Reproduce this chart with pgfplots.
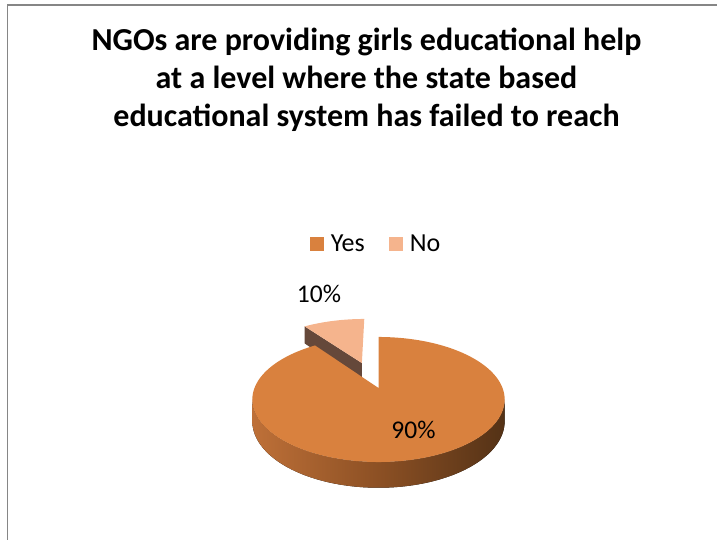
\documentclass[border=0pt]{standalone}
\usepackage{pgfplots}
\pgfplotsset{compat=1.18}
\usepackage{pgfplotstable}
\usepgfplotslibrary{fillbetween}
\usepackage{fontspec}
\setmainfont{Carlito}

\definecolor{cYes}{RGB}{217,129,62}
\definecolor{cNo}{RGB}{245,180,141}
\definecolor{cNoSide}{RGB}{101,72,58}
\definecolor{sideL}{RGB}{190,112,56}
\definecolor{sideM}{RGB}{140,80,36}
\definecolor{sideR}{RGB}{84,50,22}
\definecolor{frameC}{RGB}{134,134,134}

\pgfplotstableread{
label value
Yes 90
No 10
}\piedata
\pgfplotstablegetelem{0}{value}\of\piedata \edef\vYes{\pgfplotsretval}
\pgfplotstablegetelem{1}{value}\of\piedata \edef\vNo{\pgfplotsretval}
\pgfmathsetmacro\fYes{\vYes/(\vYes+\vNo)}
\pgfmathsetmacro\fNo{\vNo/(\vYes+\vNo)}
\pgfmathsetmacro\aA{90}
\pgfmathsetmacro\aB{round(90-360*\fYes)}
\pgfmathsetmacro\aC{round(\aB-360*\fNo)}
\pgfmathsetmacro\aM{(\aB+\aC)/2}
\pgfmathsetmacro\ex{0.47*cos(\aM)}
\pgfmathsetmacro\ey{0.47*sin(\aM)}
\pgfmathsetmacro\aBn{\aB+1}
\pgfmathsetmacro\aCn{\aC+1}

\begin{document}%
\begin{tikzpicture}
\begin{axis}[
  width=726pt, height=540pt, scale only axis,
  xmin=0, xmax=726, ymin=0, ymax=540, y dir=reverse,
  hide axis, ticks=none, clip=false,
  at={(0,0)}, anchor=south west,
  declare function={
    px(\X,\Y)=378.5+124*\X/(1+0.184*\Y);
    py(\X,\Y,\Z)=388+(-60.4*\Y+21*\Z)/(1+0.184*\Y);
  },
  legend style={at={(axis description cs:0.518,0.548)}, anchor=center, draw=none, fill=none,
    legend columns=2, font=\fontsize{26}{30}\selectfont,
    /tikz/every even column/.append style={column sep=22pt}},
  legend cell align=left,
]
\addlegendimage{legend image code/.code={\fill[cYes, draw=none] (0pt,-7pt) rectangle (14pt,7pt); \path[draw=none, fill=none] (19pt,0pt) rectangle (19pt,0pt);}}
\addlegendentry{Yes}
\addlegendimage{legend image code/.code={\fill[cNo, draw=none] (0pt,-7pt) rectangle (14pt,7pt); \path[draw=none, fill=none] (19pt,0pt) rectangle (19pt,0pt);}}
\addlegendentry{No}

% No slice (exploded): radial side face
\addplot[draw=none, name path=nTop, forget plot, domain=0:1, samples=2]
  ({px(\ex+x*cos(\aB),\ey+x*sin(\aB))},{py(\ex+x*cos(\aB),\ey+x*sin(\aB),0)});
\addplot[draw=none, name path=nBot, forget plot, domain=0:1, samples=2]
  ({px(\ex+x*cos(\aB),\ey+x*sin(\aB))},{py(\ex+x*cos(\aB),\ey+x*sin(\aB),1)});
\addplot[fill=cNoSide, draw=none, forget plot] fill between[of=nTop and nBot];
% No slice top face
\addplot[fill=cNo, draw=none, forget plot, samples at={\aC,\aCn,...,\aB,1000}]
  ({ifthenelse(x>500, px(\ex,\ey), px(\ex+cos(x),\ey+sin(x)))},
   {ifthenelse(x>500, py(\ex,\ey,0), py(\ex+cos(x),\ey+sin(x),0))});

% Yes slice: front side
\addplot[draw=none, name path=ySTop, forget plot, domain=-169.4:-10.6, samples=120]
  ({px(cos(x),sin(x))},{py(cos(x),sin(x),0)});
\addplot[draw=none, name path=ySBot, forget plot, domain=-169.4:-10.6, samples=120]
  ({px(cos(x),sin(x))},{py(cos(x),sin(x),1)});
\addplot[left color=sideL, right color=sideR, middle color=sideM, draw=none, forget plot]
  fill between[of=ySTop and ySBot];
% Yes slice top face
\addplot[fill=cYes, draw=none, forget plot, samples at={\aB,\aBn,...,\aA,1000}]
  ({ifthenelse(x>500, px(0,0), px(cos(x),sin(x)))},
   {ifthenelse(x>500, py(0,0,0), py(cos(x),sin(x),0))});

% labels
\node[font=\fontsize{25.5}{30}\selectfont, anchor=base] at (axis cs:319,303) {10\%};
\node[font=\fontsize{25.5}{30}\selectfont, anchor=base] at (axis cs:413.5,439) {90\%};

% title
\node[font=\bfseries\fontsize{32}{38}\selectfont, anchor=base] at (axis cs:366.5,50.5) {NGOs are providing girls educational help};
\node[font=\bfseries\fontsize{32}{38}\selectfont, anchor=base] at (axis cs:366.5,88.5) {at a level where the state based};
\node[font=\bfseries\fontsize{32}{38}\selectfont, anchor=base] at (axis cs:366.5,126.5) {educational system has failed to reach};

% frame
\draw[frameC, line width=1.6pt] (axis cs:7.5,540) -- (axis cs:7.5,5.3) -- (axis cs:716.5,5.3);
\end{axis}
\pgfresetboundingbox
\useasboundingbox (current axis.south west) rectangle (current axis.north east);
\end{tikzpicture}%
\end{document}
